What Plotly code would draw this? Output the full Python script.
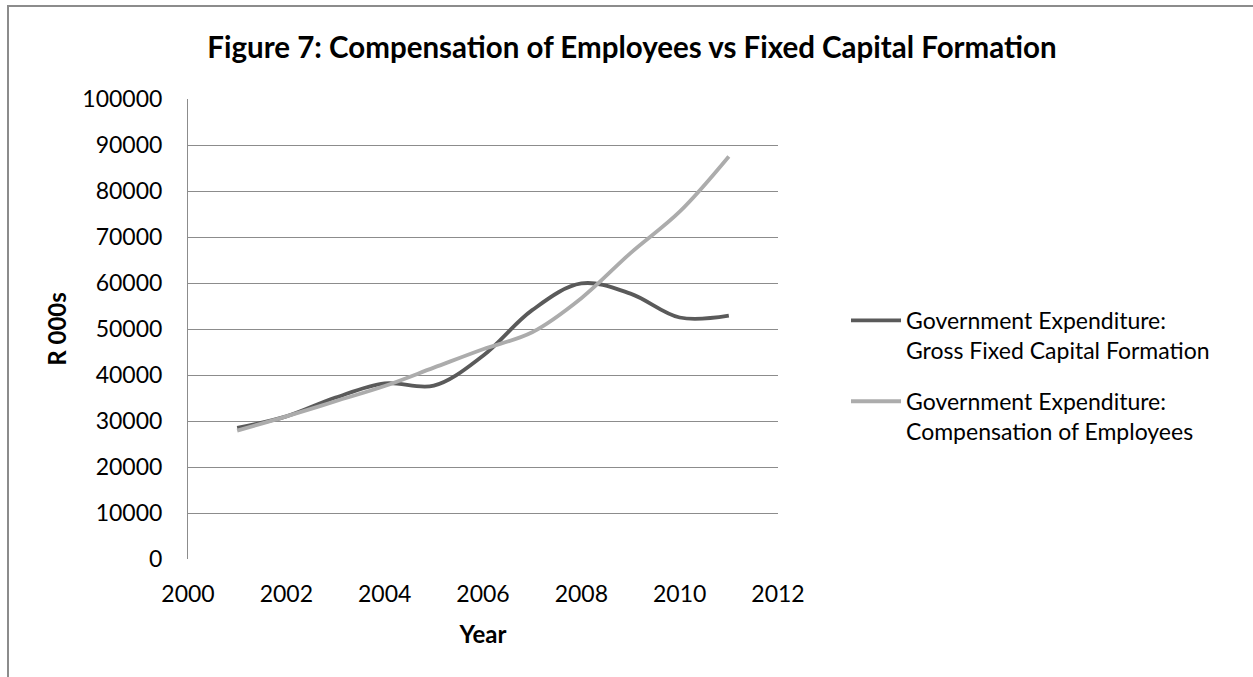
import plotly.graph_objects as go

# Annual government expenditure, R 000s
years = [2001, 2002, 2003, 2004, 2005, 2006, 2007, 2008, 2009, 2010, 2011]
gross_fixed_capital = [28500, 31000, 35100, 38200, 37700, 44200, 54100, 59900, 57700, 52500, 52900]
compensation_employees = [27900, 31000, 34300, 37600, 41600, 45600, 49300, 56700, 66500, 75500, 87500]

W, H = 1253, 677
L, R, T, B = 188, 778, 99, 559  # plot area in pixels

FONT = "Lato"
TICK_SIZE = 23

fig = go.Figure()
fig.add_trace(go.Scatter(
    x=years, y=gross_fixed_capital, mode="lines",
    line=dict(color="#5a5a5a", width=3.8, shape="spline", smoothing=1.0),
    name="Government Expenditure:<br>Gross Fixed Capital Formation",
    legendgroup="gfcf",
))
fig.add_trace(go.Scatter(
    x=years, y=compensation_employees, mode="lines",
    line=dict(color="#acacac", width=3.8, shape="spline", smoothing=1.0),
    name="Government Expenditure:<br>Compensation of Employees",
    legendgroup="coe",
))

def px_x(p):
    return (p - L) / (R - L)

def px_y(p):
    return (B - p) / (B - T)

fig.update_layout(
    width=W, height=H,
    margin=dict(l=L, r=W - R, t=T, b=H - B),
    paper_bgcolor="white", plot_bgcolor="white",
    font=dict(family=FONT, size=TICK_SIZE, color="#000000"),
    title=dict(
        text="<b>Figure 7: Compensation of Employees vs Fixed Capital Formation</b>",
        x=632 / W, xanchor="center", xref="container",
        y=1 - 48 / H, yanchor="middle", yref="container",
        font=dict(family=FONT, size=29.5, color="#000000"),
    ),
    xaxis=dict(
        range=[2000, 2012], tickmode="array",
        tickvals=[2000, 2002, 2004, 2006, 2008, 2010, 2012],
        showgrid=False, zeroline=False,
        showline=False, ticks="", ticklabelstandoff=19,
        tickfont=dict(family=FONT, size=TICK_SIZE),
        title=dict(text="<b>Year</b>", font=dict(family=FONT, size=24), standoff=20),
    ),
    yaxis=dict(
        range=[0, 100000], tickmode="array",
        tickvals=list(range(0, 100001, 10000)),
        tickformat="d",
        showgrid=True, gridcolor="#8c8c8c", gridwidth=1,
        zeroline=False,
        showline=True, linecolor="#8c8c8c", linewidth=1,
        ticks="", ticklabelstandoff=20,
        tickfont=dict(family=FONT, size=TICK_SIZE),
        title=dict(text="<b>R 000s</b>", font=dict(family=FONT, size=24), standoff=8),
    ),
    legend=dict(
        x=px_x(846), y=px_y(299), xanchor="left", yanchor="top",
        font=dict(family=FONT, size=TICK_SIZE, color="#000000"),
        itemwidth=50, tracegroupgap=18, valign="top",
        bgcolor="rgba(0,0,0,0)",
    ),
    showlegend=True,
)

# Chart area outline
fig.add_shape(
    type="rect", xref="paper", yref="paper",
    x0=px_x(8), x1=px_x(1270), y0=px_y(690), y1=px_y(6),
    line=dict(color="#8c8c8c", width=2), fillcolor="rgba(0,0,0,0)",
    layer="below",
)

fig.write_html("out.html")
